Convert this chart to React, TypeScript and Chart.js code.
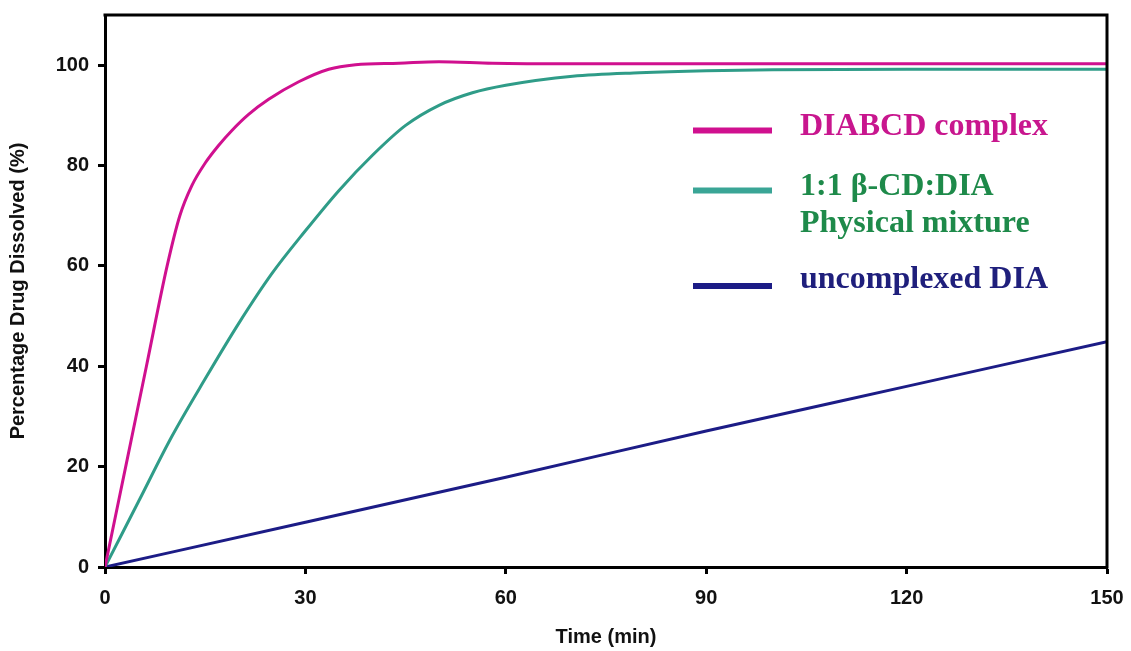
import React, { useEffect, useRef } from "react";
import { Chart, registerables } from "chart.js";

Chart.register(...registerables);

// ---- data ----
const xTicks = [0, 30, 60, 90, 120, 150];
const yTicks = [0, 20, 40, 60, 80, 100];

const complexTime = [0, 3.1, 6.2, 9.3, 11.2, 13, 15, 17, 19, 21.5, 24.5, 29, 33.5, 37.5, 44, 50, 58, 70, 150];
const complexValues = [0, 20, 40, 60, 70, 76, 80.5, 84, 87, 90.2, 93.2, 96.7, 99.2, 100.1, 100.4, 100.7, 100.4, 100.3, 100.3];

const mixtureTime = [0, 5, 10, 15, 20, 25, 30, 35, 40, 45, 50, 55, 60, 70, 80, 90, 100, 120, 150];
const mixtureValues = [0, 13, 26, 37.5, 48.5, 58.5, 67, 75, 82, 88, 92, 94.5, 96, 97.8, 98.5, 98.9, 99.1, 99.2, 99.2];

const uncomplexedTime = [0, 30, 60, 90, 120, 150];
const uncomplexedValues = [0, 8.9, 17.9, 27.1, 36, 44.9];

const legendLines = ["DIABCD complex", "1:1 \u03B2-CD:DIA", "Physical mixture", "uncomplexed DIA"];

const COLORS = {
  complex: "#d0108f",
  mixture: "#2f9c88",
  mixtureLegend: "#3aa596",
  uncomplexed: "#1c1c86",
  complexText: "#c8168e",
  mixtureText: "#1e8a4a",
  uncomplexedText: "#1f1f7c",
};

const pts = (t: number[], v: number[]) => t.map((x, i) => ({ x, y: v[i] }));

const framePlugin = {
  id: "frame",
  afterDraw(chart: any) {
    const { ctx, chartArea } = chart;
    const { left, right, top, bottom } = chartArea;
    ctx.save();
    ctx.strokeStyle = "#000";
    ctx.lineWidth = 3;
    ctx.beginPath();
    ctx.moveTo(left - 1.5, top);
    ctx.lineTo(right, top);
    ctx.lineTo(right, bottom + 1.5);
    ctx.stroke();
    ctx.restore();
  },
};

const legendPlugin = {
  id: "customLegend",
  afterDraw(chart: any) {
    const { ctx } = chart;
    ctx.save();
    const items = [
      { lineY: 130.5, color: COLORS.complex, width: 6 },
      { lineY: 190.5, color: COLORS.mixtureLegend, width: 6 },
      { lineY: 286, color: COLORS.uncomplexed, width: 6 },
    ];
    items.forEach((it) => {
      ctx.strokeStyle = it.color;
      ctx.lineWidth = it.width;
      ctx.beginPath();
      ctx.moveTo(693, it.lineY);
      ctx.lineTo(772, it.lineY);
      ctx.stroke();
    });
    ctx.font = "bold 32px 'Liberation Serif', 'Times New Roman', serif";
    ctx.textBaseline = "alphabetic";
    ctx.textAlign = "left";
    ctx.fillStyle = COLORS.complexText;
    ctx.fillText(legendLines[0], 800, 135);
    ctx.fillStyle = COLORS.mixtureText;
    ctx.fillText(legendLines[1], 800, 195);
    ctx.fillText(legendLines[2], 800, 232);
    ctx.fillStyle = COLORS.uncomplexedText;
    ctx.fillText(legendLines[3], 800, 288);
    ctx.restore();
  },
};

export default function App() {
  const ref = useRef<HTMLCanvasElement | null>(null);

  useEffect(() => {
    if (!ref.current) return;
    const tickFont = { family: "'Liberation Sans', Arial, sans-serif", size: 20, weight: "bold" as const };
    const titleFont = { family: "'Liberation Sans', Arial, sans-serif", size: 20, weight: "bold" as const };
    const chart = new Chart(ref.current, {
      type: "line",
      data: {
        datasets: [
          {
            label: "DIABCD complex",
            data: pts(complexTime, complexValues),
            borderColor: COLORS.complex,
            borderWidth: 3,
            pointRadius: 0,
            cubicInterpolationMode: "monotone",
            fill: false,
          },
          {
            label: "1:1 \u03B2-CD:DIA Physical mixture",
            data: pts(mixtureTime, mixtureValues),
            borderColor: COLORS.mixture,
            borderWidth: 3,
            pointRadius: 0,
            cubicInterpolationMode: "monotone",
            fill: false,
          },
          {
            label: "uncomplexed DIA",
            data: pts(uncomplexedTime, uncomplexedValues),
            borderColor: COLORS.uncomplexed,
            borderWidth: 3,
            pointRadius: 0,
            cubicInterpolationMode: "monotone",
            fill: false,
          },
        ],
      },
      options: {
        animation: false,
        responsive: true,
        maintainAspectRatio: false,
        layout: { padding: { top: 15, right: 24, left: 0, bottom: 0 } },
        plugins: {
          legend: { display: false },
          tooltip: { enabled: false },
        },
        scales: {
          x: {
            type: "linear",
            min: 0,
            max: 150,
            afterBuildTicks: (scale: any) => {
              scale.ticks = xTicks.map((v) => ({ value: v }));
            },
            afterFit: (scale: any) => {
              scale.height = 84;
              scale.paddingLeft = 0;
              scale.paddingRight = 0;
            },
            ticks: {
              font: tickFont,
              color: "#111",
              padding: 12,
              maxRotation: 0,
            },
            grid: {
              drawOnChartArea: false,
              drawTicks: true,
              tickLength: 7,
              tickWidth: 3,
              tickColor: "#000",
            },
            border: { display: true, color: "#000", width: 3 },
            title: {
              display: true,
              text: "Time (min)",
              font: titleFont,
              color: "#111",
              padding: { top: 0, bottom: 2 },
            },
          },
          y: {
            type: "linear",
            min: 0,
            max: 110,
            afterBuildTicks: (scale: any) => {
              scale.ticks = yTicks.map((v) => ({ value: v }));
            },
            afterFit: (scale: any) => {
              scale.width = 105;
              scale.paddingTop = 0;
              scale.paddingBottom = 0;
            },
            ticks: {
              font: tickFont,
              color: "#111",
              padding: 9,
            },
            grid: {
              drawOnChartArea: false,
              drawTicks: true,
              tickLength: 7,
              tickWidth: 3,
              tickColor: "#000",
            },
            border: { display: true, color: "#000", width: 3 },
            title: {
              display: true,
              text: "Percentage Drug Dissolved (%)",
              font: { family: "'Liberation Sans', Arial, sans-serif", size: 20, weight: "bold" as const },
              color: "#111",
              padding: { top: 6, bottom: 0 },
            },
          },
        },
      },
      plugins: [framePlugin, legendPlugin],
    } as any);
    return () => chart.destroy();
  }, []);

  return (
    <div style={{ position: "fixed", left: 0, top: 0, width: 1131, height: 651, background: "#fff" }}>
      <canvas ref={ref} />
    </div>
  );
}
